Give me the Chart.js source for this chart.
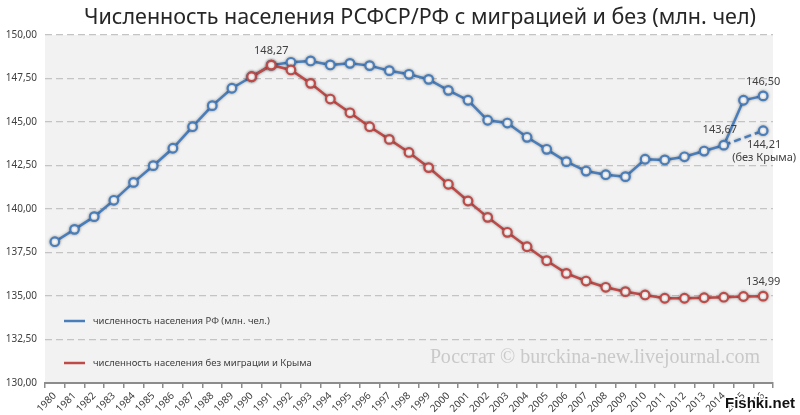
<!DOCTYPE html>
<html>
<head>
<meta charset="utf-8">
<script src="https://cdn.jsdelivr.net/npm/chart.js@4"></script>
<style>
html,body{margin:0;padding:0;background:#fff;}
#wrap{width:800px;height:415px;position:relative;}
</style>
</head>
<body>
<div id="wrap"><canvas id="c" width="800" height="415"></canvas></div>
<script>
const years = ['1980','1981','1982','1983','1984','1985','1986','1987','1988','1989',
               '1990','1991','1992','1993','1994','1995','1996','1997','1998','1999',
               '2000','2001','2002','2003','2004','2005','2006','2007','2008','2009',
               '2010','2011','2012','2013','2014','2015','2016'];

const popWithMigration = [138.12,138.83,139.56,140.50,141.53,142.49,143.49,144.73,145.94,146.94,
                          147.60,148.27,148.43,148.51,148.28,148.37,148.24,147.95,147.74,147.45,
                          146.82,146.25,145.10,144.94,144.12,143.43,142.72,142.18,141.97,141.86,
                          142.86,142.82,143.00,143.33,143.67,146.25,146.50];

const popNoMigration = [null,null,null,null,null,null,null,null,null,null,
                        147.60,148.27,147.99,147.22,146.32,145.53,144.73,144.00,143.25,142.38,
                        141.42,140.46,139.52,138.66,137.83,137.03,136.30,135.86,135.50,135.25,
                        135.06,134.87,134.87,134.90,134.93,134.97,134.99];

const popNoCrimea = [null,null,null,null,null,null,null,null,null,null,
                     null,null,null,null,null,null,null,null,null,null,
                     null,null,null,null,null,null,null,null,null,null,
                     null,null,null,null,143.67,null,144.50];

const yTicks = [130,132.5,135,137.5,140,142.5,145,147.5,150];

const titleText = 'Численность населения РСФСР/РФ с миграцией и без (млн. чел)';
const legendLabels = ['численность населения РФ (млн. чел.)','численность населения без миграции и Крыма'];
const watermarkText = 'Росстат © burckina-new.livejournal.com';
const pointLabels = [
  {ds:1, idx:11, text:'148,27', dx:0, dy:-14},
  {ds:1, idx:36, text:'146,50', dx:0, dy:-14},
  {ds:1, idx:34, text:'143,67', dx:-4, dy:-15},
  {ds:2, idx:36, text:'144,21', dx:1, dy:14},
  {ds:2, idx:36, text:'(без Крыма)', dx:1, dy:27},
  {ds:0, idx:36, text:'134,99', dx:0, dy:-14}
];

const BLUE = '#4a7ebb';
const RED = '#be4b48';
const fmt = v => v.toFixed(2).replace('.', ',');

const decor = {
  id: 'decor',
  beforeDraw(chart) {
    const {ctx, chartArea: a} = chart;
    ctx.save();
    ctx.fillStyle = '#f2f2f2';
    ctx.fillRect(a.left, a.top, a.right - a.left, a.bottom - a.top);
    ctx.restore();
  },
  beforeDatasetsDraw(chart) {
    const {ctx, chartArea: a} = chart;
    ctx.save();
    ctx.fillStyle = '#c9c9c9';
    ctx.font = '20px "Liberation Serif"';
    ctx.textAlign = 'right';
    ctx.textBaseline = 'middle';
    ctx.fillText(watermarkText, 760, 358);
    // legend
    const cols = [BLUE, RED];
    const ys = [321, 363];
    ctx.font = '9.5px "Noto Sans"';
    ctx.textAlign = 'left';
    for (let i = 0; i < 2; i++) {
      ctx.strokeStyle = cols[i];
      ctx.lineWidth = 2.5;
      ctx.beginPath();
      ctx.moveTo(64, ys[i]);
      ctx.lineTo(85, ys[i]);
      ctx.stroke();
      ctx.fillStyle = '#404040';
      ctx.fillText(legendLabels[i], 93, ys[i]);
    }
    ctx.restore();
  },
  beforeDatasetDraw(chart) {
    const ctx = chart.ctx;
    ctx.save();
    ctx.shadowColor = 'rgba(0,0,0,0.35)';
    ctx.shadowBlur = 3;
    ctx.shadowOffsetX = 0;
    ctx.shadowOffsetY = 0;
  },
  afterDatasetDraw(chart) {
    chart.ctx.restore();
  },
  afterDraw(chart) {
    const ctx = chart.ctx;
    ctx.save();
    // title
    ctx.fillStyle = '#262626';
    ctx.font = '21.5px "Noto Sans"';
    ctx.textAlign = 'center';
    ctx.textBaseline = 'middle';
    ctx.fillText(titleText, 420, 18);
    // point labels
    ctx.font = '11px "Noto Sans"';
    ctx.fillStyle = '#404040';
    pointLabels.forEach(l => {
      const el = chart.getDatasetMeta(l.ds).data[l.idx];
      ctx.fillText(l.text, el.x + l.dx, el.y + l.dy);
    });
    // site mark
    ctx.font = 'bold 15px "Liberation Sans"';
    ctx.textAlign = 'right';
    ctx.lineWidth = 3;
    ctx.strokeStyle = '#ffffff';
    ctx.strokeText('Fishki.net', 795, 404);
    ctx.fillStyle = '#111';
    ctx.fillText('Fishki.net', 795, 404);
    ctx.restore();
  }
};

new Chart(document.getElementById('c'), {
  type: 'line',
  data: {
    labels: years,
    datasets: [
      {
        label: legendLabels[1],
        data: popNoMigration,
        borderColor: RED,
        backgroundColor: '#ffffff',
        borderWidth: 2.5,
        pointRadius: 4.3,
        pointBorderWidth: 2.2,
        pointBackgroundColor: '#ffffff',
        pointBorderColor: RED,
        tension: 0
      },
      {
        label: legendLabels[0],
        data: popWithMigration,
        borderColor: BLUE,
        backgroundColor: '#ffffff',
        borderWidth: 2.5,
        pointRadius: 4.3,
        pointBorderWidth: 2.2,
        pointBackgroundColor: '#ffffff',
        pointBorderColor: BLUE,
        tension: 0
      },
      {
        label: 'без Крыма',
        data: popNoCrimea,
        borderColor: BLUE,
        borderDash: [7, 4],
        borderWidth: 2.5,
        spanGaps: true,
        pointRadius: c => c.dataIndex === 36 ? 4.3 : 0,
        pointBorderWidth: 2.2,
        pointBackgroundColor: '#ffffff',
        pointBorderColor: BLUE,
        tension: 0
      }
    ]
  },
  options: {
    responsive: false,
    animation: false,
    devicePixelRatio: 1,
    layout: { padding: { top: 35, right: 27, left: 0, bottom: 0 } },
    plugins: {
      legend: { display: false },
      title: { display: false },
      tooltip: { enabled: false }
    },
    scales: {
      x: {
        type: 'category',
        offset: true,
        afterFit: s => { s.height = 32; },
        grid: {
          offset: true,
          drawOnChartArea: false,
          drawTicks: true,
          tickLength: 5,
          color: '#8c8c8c',
          lineWidth: 1.5
        },
        border: { display: true, color: '#8c8c8c', width: 2 },
        ticks: {
          autoSkip: false,
          maxRotation: 45,
          minRotation: 45,
          padding: 2,
          color: '#404040',
          font: { family: '"Noto Sans"', size: 10 }
        }
      },
      y: {
        min: 130,
        max: 150,
        afterFit: s => { s.width = 45; },
        afterBuildTicks: s => { s.ticks = yTicks.map(v => ({ value: v })); },
        grid: {
          drawTicks: false,
          color: '#c4c4c4',
          lineWidth: 1.3
        },
        border: { display: false, dash: [7, 4] },
        ticks: {
          padding: 8,
          color: '#404040',
          font: { family: '"Noto Sans"', size: 10 },
          callback: v => fmt(v)
        }
      }
    }
  },
  plugins: [decor]
});
</script>
</body>
</html>
